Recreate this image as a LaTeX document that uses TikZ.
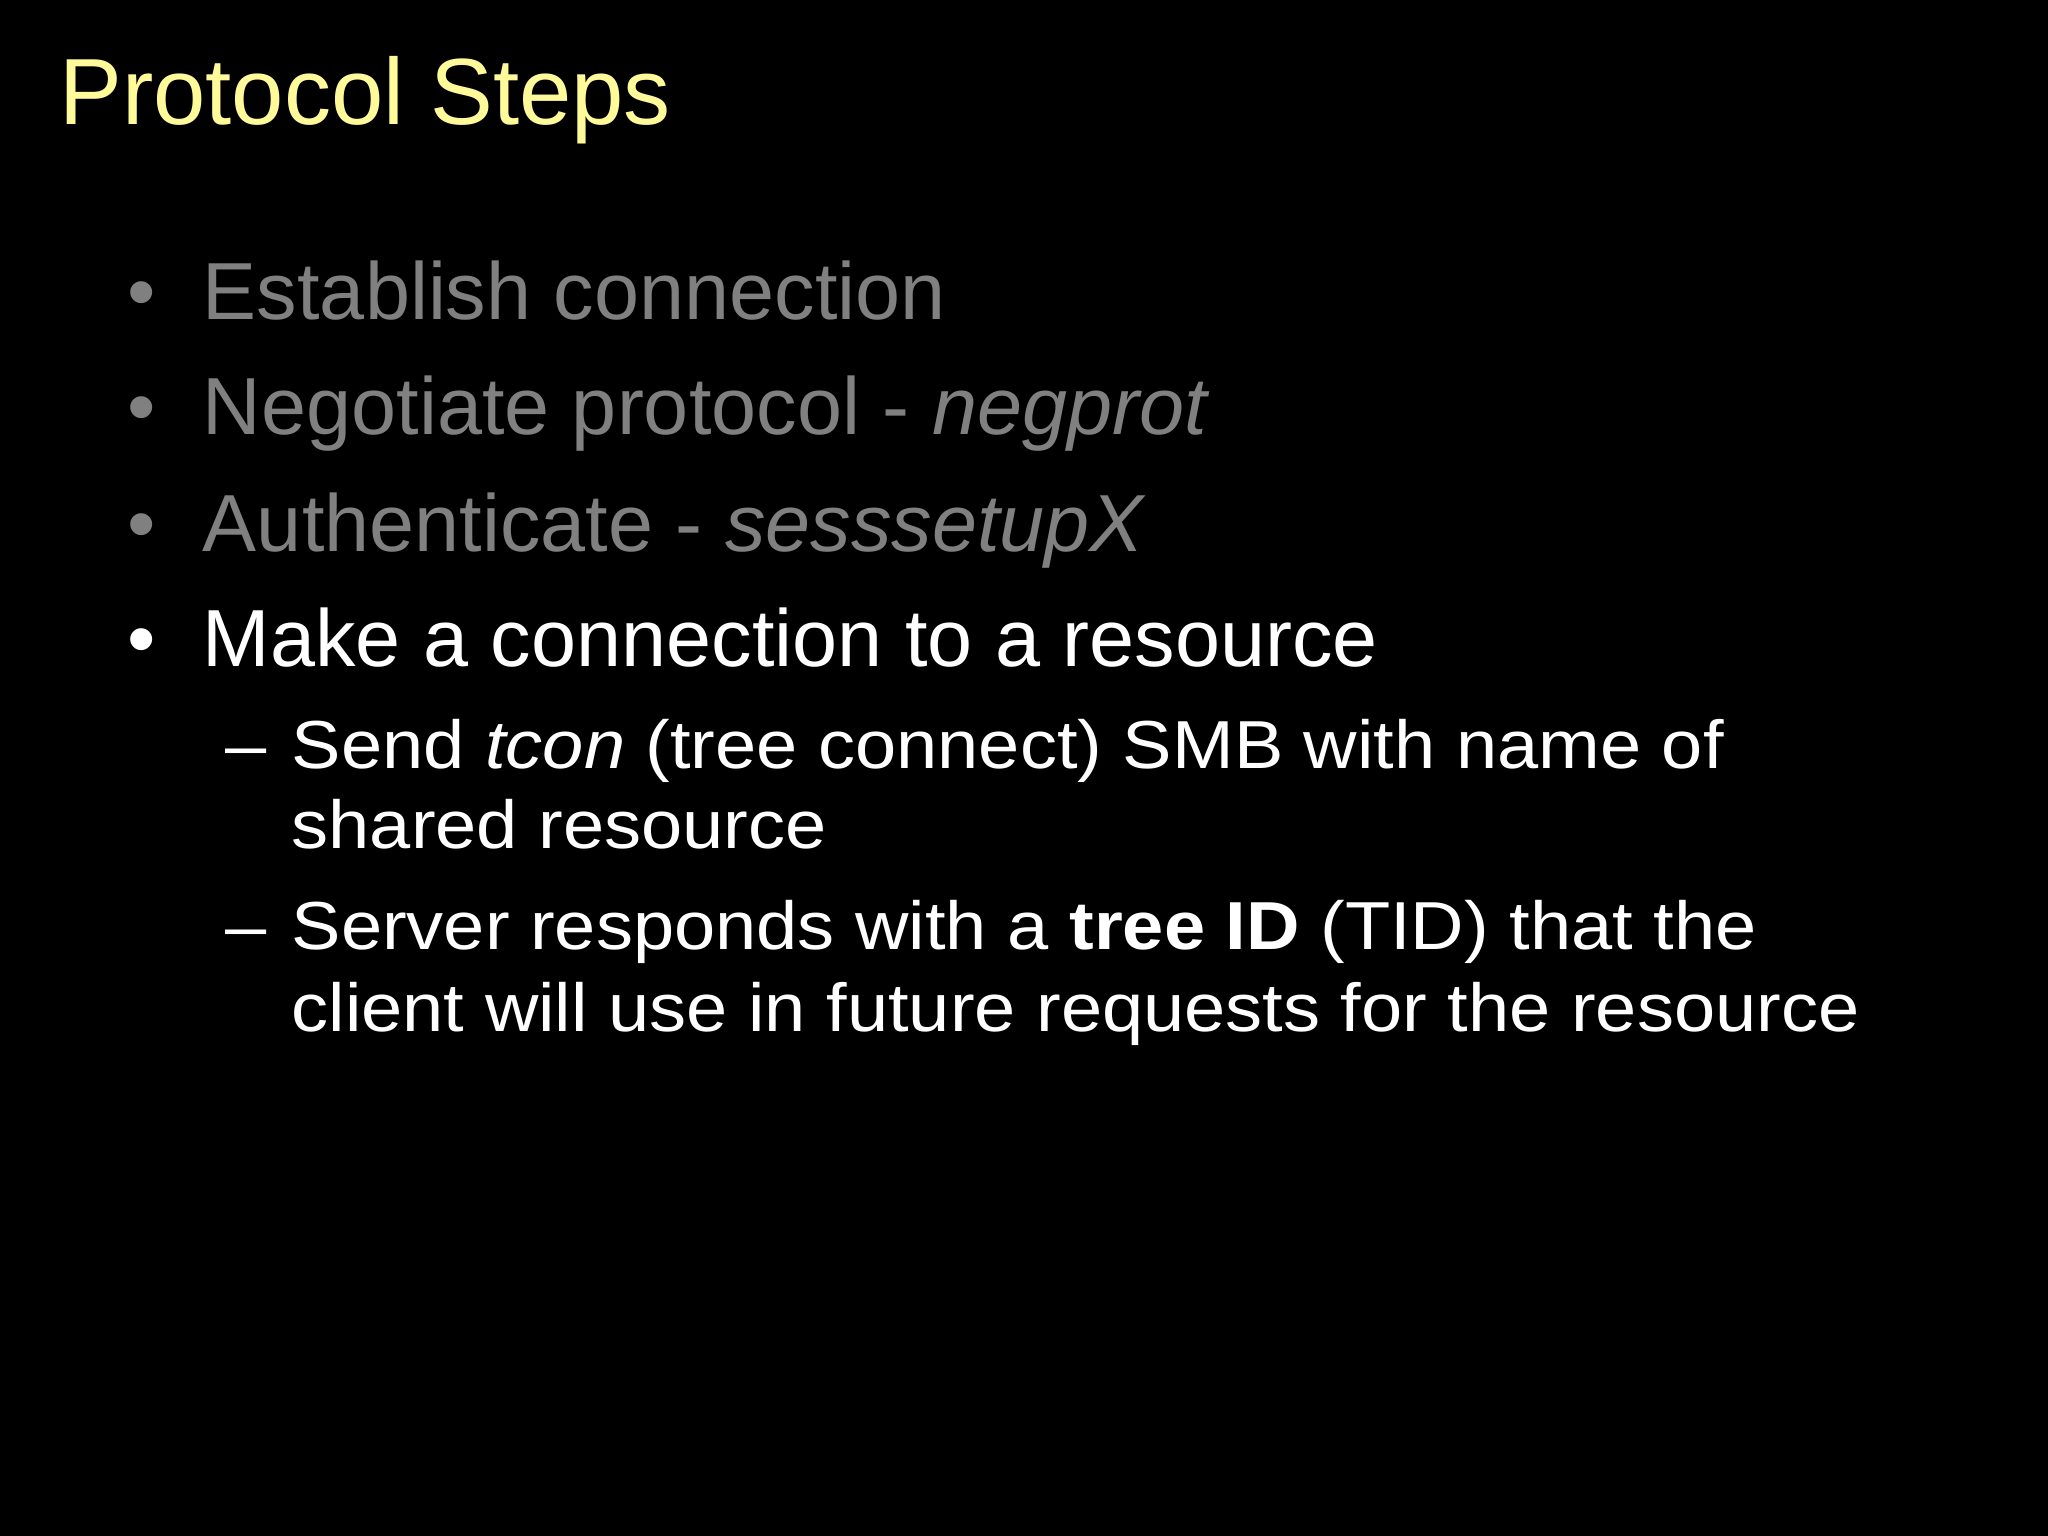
\documentclass[tikz,border=0pt]{standalone}
\usepackage{fontspec}
\setmainfont{Liberation Sans}
\newfontfamily\wideface[FakeStretch=1.09]{Liberation Sans}
\begin{document}
\begin{tikzpicture}[x=0.5pt,y=-0.5pt,
  t/.style={anchor=base west,inner sep=0pt},
  ttl/.style={t,text=yellow!40!white,font=\fontsize{36}{40}\selectfont},
  gb/.style={t,text=gray,font=\fontsize{31}{36}\selectfont},
  wb/.style={t,text=white,font=\fontsize{31}{36}\selectfont},
  sb/.style={t,text=white,font=\wideface\fontsize{26}{30}\selectfont}]
\fill[black] (0,0) rectangle (1568,1176);
\node[ttl] (title) at (45,95) {Protocol Steps};
\node[gb] (d1) at (97,245) {•};
\node[gb] (b1) at (155,245) {Establish connection};
\node[gb] (d2) at (97,333) {•};
\node[gb] (b2) at (155,333) {Negotiate protocol - \textit{negprot}};
\node[gb] (d3) at (97,422) {•};
\node[gb] (b3) at (155,422) {Authenticate - \textit{sesssetupX}};
\node[wb] (d4) at (97,510) {•};
\node[wb] (b4) at (155,510) {Make a connection to a resource};
\node[sb] (d5) at (172,588) {–};
\node[sb] (s1) at (223,588) {Send \textit{tcon} (tree connect) SMB with name of};
\node[sb] (s1b) at (223,650) {shared resource};
\node[sb] (d6) at (172,727) {–};
\node[sb] (s2) at (223,727) {Server responds with a \textbf{tree ID} (TID) that the};
\node[sb] (s2b) at (223,790) {client will use in future requests for the resource};
\end{tikzpicture}
\end{document}
